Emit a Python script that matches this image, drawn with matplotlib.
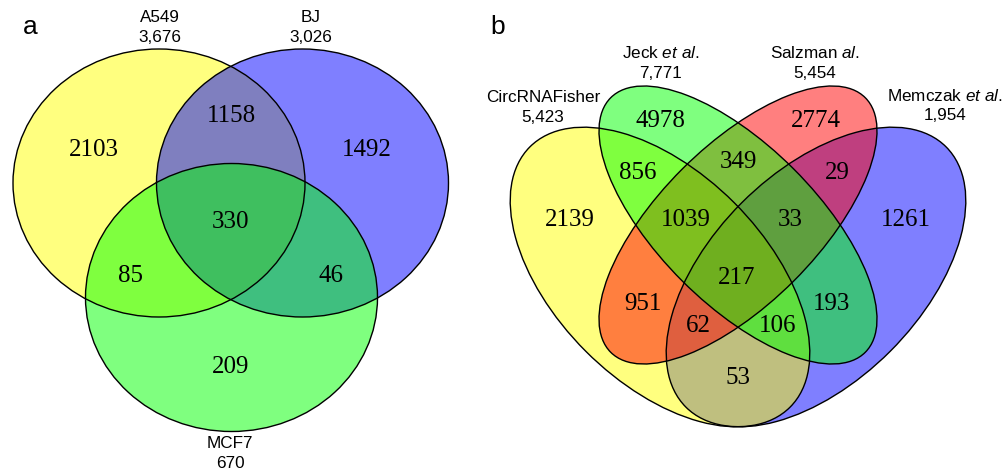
import matplotlib.pyplot as plt
from matplotlib.patches import Ellipse

plt.rcParams["mathtext.fontset"] = "custom"
plt.rcParams["mathtext.rm"] = "Liberation Sans"
plt.rcParams["mathtext.it"] = "Liberation Sans:italic"

# panel a: three cell lines
sets_a = ["A549", "BJ", "MCF7"]
totals_a = ["3,676", "3,026", "670"]
# regions: A only, A&B, B only, all, A&C, B&C, C only
counts_a = [2103, 1158, 1492, 330, 85, 46, 209]

# panel b: four detection methods
sets_b = ["CircRNAFisher", r"Jeck $\it{et\ al.}$", r"Salzman $\it{al.}$", r"Memczak $\it{et\ al.}$"]
totals_b = ["5,423", "7,771", "5,454", "1,954"]
counts_b = [4978, 2774, 856, 349, 29, 2139, 1039, 33, 1261, 217, 951, 193, 62, 106, 53]

# layout (pixel coordinates of the 1002x469 figure)
circ_a = [((159, 183), "yellow"), ((302.5, 183), "blue"), ((231.5, 297.5), "lime")]
lab_a = [(160, 18), (311, 18), (230, 443)]
pos_a = [(94, 150), (231, 116), (367, 150), (231, 222), (131, 276), (331, 276), (231, 367)]

# draw order: blue, yellow, red, green
ell_b = [((816, 277), 368, 210, -45, "blue"),
         ((660, 277), 368, 210, 45, "yellow"),
         ((738, 225), 360, 158, -45, "red"),
         ((738, 225), 360, 158, 45, "lime")]
lab_b = [(543, 97), (661, 53), (815, 53), (945, 96)]
pos_b = [(660, 121), (816, 121), (638, 173), (738, 162), (837, 173),
         (570, 220), (686, 220), (790, 220), (906, 220),
         (737, 278), (643, 304), (832, 304), (698, 326), (778, 326), (738, 378)]

fig = plt.figure(figsize=(10.02, 4.69), dpi=100)
ax = fig.add_axes([0, 0, 1, 1])
ax.set_xlim(0, 1002)
ax.set_ylim(469, 0)
ax.axis("off")

num_font = dict(family="Liberation Serif", fontsize=18, ha="center", va="center")
lab_font = dict(family="Liberation Sans", fontsize=12.3, ha="center", va="center")

# ---- panel a
for (c, col) in circ_a:
    ax.add_patch(Ellipse(c, 292, 268, facecolor=col, alpha=0.5, edgecolor="none"))
for (c, col) in circ_a:
    ax.add_patch(Ellipse(c, 292, 268, facecolor="none", edgecolor="black", lw=1.0))
for n, (x, y) in zip(counts_a, pos_a):
    ax.text(x, y, str(n), **num_font)
for name, tot, (x, y) in zip(sets_a, totals_a, lab_a):
    ax.text(x, y, name, **lab_font)
    ax.text(x, y + 20, tot, **lab_font)
ax.text(30, 27, "a", family="Liberation Sans", fontsize=19, ha="center", va="center")

# ---- panel b
for (c, w, h, ang, col) in ell_b:
    ax.add_patch(Ellipse(c, w, h, angle=ang, facecolor=col, alpha=0.5, edgecolor="none"))
for (c, w, h, ang, col) in ell_b:
    ax.add_patch(Ellipse(c, w, h, angle=ang, facecolor="none", edgecolor="black", lw=1.0))
for n, (x, y) in zip(counts_b, pos_b):
    ax.text(x, y, str(n), **num_font)
for name, tot, (x, y) in zip(sets_b, totals_b, lab_b):
    ax.text(x, y, name, **lab_font)
    ax.text(x, y + 20, tot, **lab_font)
ax.text(498, 27, "b", family="Liberation Sans", fontsize=19, ha="center", va="center")

fig.savefig("out.png", dpi=100)
